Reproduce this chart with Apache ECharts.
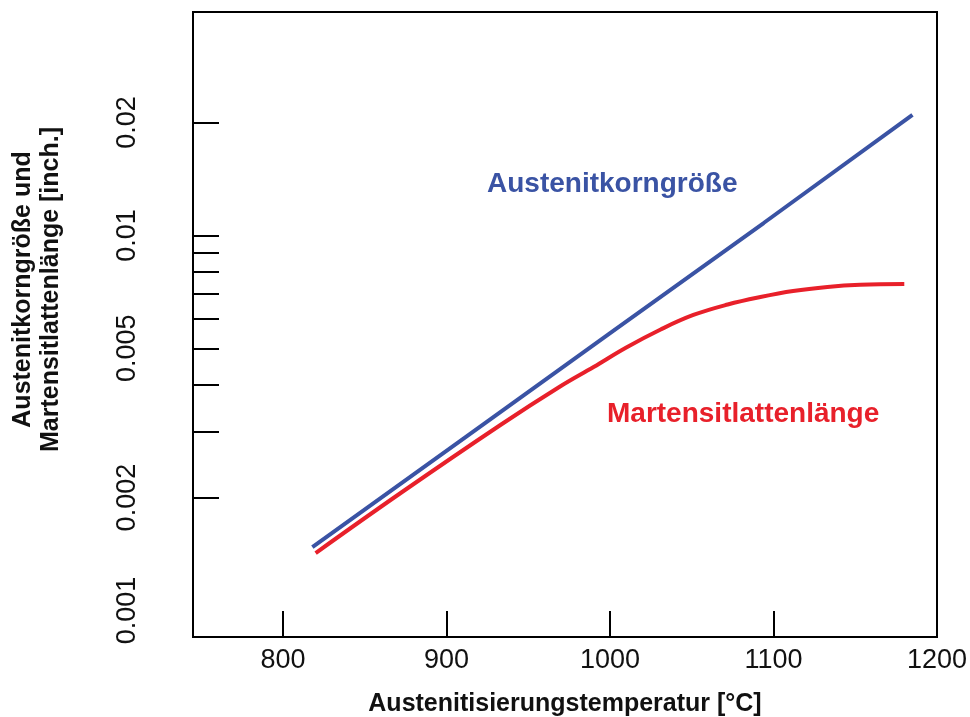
<!DOCTYPE html>
<html>
<head>
<meta charset="utf-8">
<script src="https://cdn.jsdelivr.net/npm/echarts@6.0.0/dist/echarts.min.js"></script>
<style>
html,body{margin:0;padding:0;background:#ffffff;}
#chart{width:970px;height:717px;}
</style>
</head>
<body>
<div id="chart"></div>
<script>
// ---- data ----
const grainTemp = [818, 910, 1002, 1094, 1185];
const grainSize = [0.001476, 0.002865, 0.005561, 0.01079, 0.02094];

const lathTemp = [820, 872, 933, 969, 990, 1010, 1031, 1051, 1072, 1092, 1112, 1133, 1153, 1180];
const lathSize = [0.001423, 0.002057, 0.003123, 0.003943, 0.004458, 0.005025, 0.005613, 0.006135, 0.006543, 0.006851, 0.007108, 0.007286, 0.007383, 0.007421];

const xTickValues = [800, 900, 1000, 1100];
const xLabelValues = [800, 900, 1000, 1100, 1200];
const yLabelValues = [0.001, 0.002, 0.005, 0.01, 0.02];
const yTickValues = [0.002, 0.003, 0.004, 0.005, 0.006, 0.007, 0.008, 0.009, 0.01, 0.02];

const grainName = 'Austenitkorngröße';
const lathName = 'Martensitlattenlänge';
const xName = 'Austenitisierungstemperatur [°C]';
const yName = 'Austenitkorngröße und\nMartensitlattenlänge [inch.]';

const FONT = '"Liberation Sans", Arial, Helvetica, sans-serif';
const BLUE = '#3a53a4';
const RED = '#e8202a';

const chart = echarts.init(document.getElementById('chart'), null, {renderer: 'canvas'});

const option = {
  backgroundColor: '#ffffff',
  animation: false,
  grid: {
    left: 193, top: 12, right: 33, bottom: 80,
    show: true, borderColor: '#000', borderWidth: 2,
    outerBoundsMode: 'none'
  },
  xAxis: {
    type: 'value',
    min: 745, max: 1200,
    name: xName,
    nameLocation: 'middle',
    nameGap: 55,
    nameTextStyle: {fontFamily: FONT, fontSize: 25, fontWeight: 'bold', color: '#111'},
    axisLine: {show: true, lineStyle: {color: '#000', width: 2}},
    axisTick: {show: true, inside: true, length: 26, customValues: xTickValues, lineStyle: {color: '#000', width: 2}},
    axisLabel: {
      customValues: xLabelValues, fontFamily: FONT, fontSize: 27, color: '#111', margin: 10,
      formatter: function (v) { return String(v); }
    },
    splitLine: {show: false}
  },
  yAxis: {
    type: 'log',
    logBase: 10,
    min: 0.00085, max: 0.0394,
    name: yName,
    nameLocation: 'middle',
    nameGap: 128,
    nameTextStyle: {fontFamily: FONT, fontSize: 25, fontWeight: 'bold', color: '#111', lineHeight: 28, padding: [0, 0, 0, 70]},
    axisLine: {show: true, lineStyle: {color: '#000', width: 2}},
    axisTick: {show: true, inside: true, length: 26, customValues: yTickValues, lineStyle: {color: '#000', width: 2}},
    axisLabel: {
      customValues: yLabelValues,
      rotate: 90,
      fontFamily: FONT, fontSize: 27, color: '#111', margin: 52,
      formatter: function (v) { return String(Number(v.toPrecision(6))); }
    },
    splitLine: {show: false}
  },
  series: [
    {
      name: grainName,
      type: 'line',
      data: grainTemp.map((t, i) => [t, grainSize[i]]),
      showSymbol: false,
      lineStyle: {color: BLUE, width: 4},
      itemStyle: {color: BLUE}
    },
    {
      name: lathName,
      type: 'line',
      data: lathTemp.map((t, i) => [t, lathSize[i]]),
      showSymbol: false,
      smooth: 0.4,
      lineStyle: {color: RED, width: 4},
      itemStyle: {color: RED}
    }
  ],
  graphic: [
    {
      type: 'text', left: 487, top: 170, silent: true,
      style: {text: grainName, fill: BLUE, font: 'bold 28px ' + FONT}
    },
    {
      type: 'text', left: 607, top: 400, silent: true,
      style: {text: lathName, fill: RED, font: 'bold 28px ' + FONT}
    }
  ]
};

chart.setOption(option);
</script>
</body>
</html>
